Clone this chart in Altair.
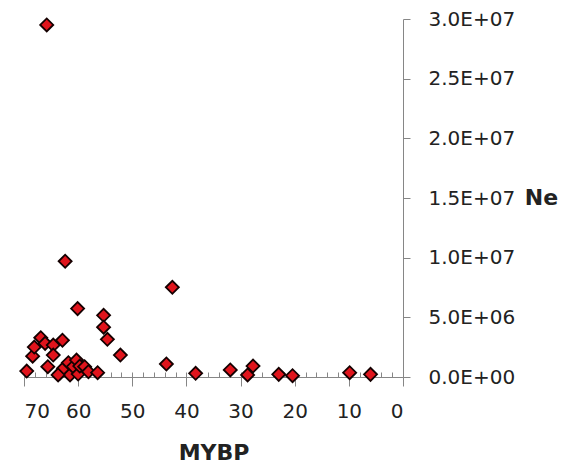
import altair as alt
import pandas as pd

# Data (MYBP = million years before present, Ne in millions)
mybp = [65.8, 62.4, 42.6, 60.1, 55.3, 55.3, 54.6, 52.2, 43.7, 38.3, 31.9, 28.7, 27.7, 22.95, 20.4, 9.85, 6.0,
        69.5, 68.4, 68.1, 66.9, 66.1, 64.6, 62.9, 64.6, 65.6,
        63.4, 62.7, 61.8, 61.5, 60.9, 60.3, 60.0, 59.7, 58.8, 58.1, 56.4, 63.7]
ne_millions = [29.5, 9.7, 7.52, 5.73, 5.17, 4.17, 3.16, 1.84, 1.09, 0.31, 0.59, 0.17, 0.92, 0.22, 0.11, 0.36, 0.22,
               0.5, 1.74, 2.51, 3.29, 2.82, 2.68, 3.08, 1.84, 0.86,
               0.31, 0.73, 1.2, 0.17, 0.86, 1.42, 0.25, 0.92, 0.86, 0.44, 0.36, 0.17]
x_ticks = [0, 10, 20, 30, 40, 50, 60, 70]
x_minor = list(range(0, 71, 2))
y_ticks = [0, 5e6, 1e7, 1.5e7, 2e7, 2.5e7, 3e7]

df = pd.DataFrame({"MYBP": mybp, "Ne": [v * 1e6 for v in ne_millions]})

W, H = 379, 358
FONT = "DejaVu Sans"
GREY = "#868686"
TXT = "#222222"

xscale = alt.Scale(domain=[0, 70], reverse=True, nice=False)
yscale = alt.Scale(domain=[0, 3e7], nice=False)

yaxis = alt.Axis(orient="right", values=y_ticks,
                 labelExpr="replace(format(datum.value, '.1e'), 'e+', 'E+0')",
                 tickSize=7, labelPadding=18, domainColor=GREY, tickColor=GREY, grid=False,
                 labelFont=FONT, labelFontSize=20, labelColor=TXT,
                 title="Ne", titleAngle=0, titleX=138, titleY=178, titleAlign="center",
                 titleBaseline="middle", titleFont=FONT, titleFontSize=22,
                 titleFontWeight="bold", titleColor=TXT)

minor = alt.Chart(df).mark_point(opacity=0).encode(
    x=alt.X("MYBP:Q", scale=xscale,
            axis=alt.Axis(orient="top", offset=-H, values=x_minor, labels=False,
                          domain=False, tickSize=5, tickColor=GREY, title="", grid=False)),
    y=alt.Y("Ne:Q", scale=yscale, axis=yaxis),
)

points = alt.Chart(df).mark_point(
    shape="diamond", size=170, filled=True, fill="#E0141C", stroke="#140000",
    strokeWidth=1.8, opacity=1
).encode(
    x=alt.X("MYBP:Q", scale=xscale,
            axis=alt.Axis(orient="bottom", values=x_ticks, tickSize=9, labelPadding=15,
                          domainColor=GREY, tickColor=GREY, grid=False,
                          labelFont=FONT, labelFontSize=20, labelColor=TXT,
                          title="MYBP", titleFont=FONT, titleFontSize=22, titleFontWeight="bold",
                          titleColor=TXT, titleY=82, titleBaseline="alphabetic")),
    y=alt.Y("Ne:Q", scale=yscale, axis=yaxis),
)

chart = alt.layer(minor, points).resolve_axis(x="independent").properties(
    width=W, height=H,
    background="white",
    autosize=alt.AutoSizeParams(type="none"),
    padding={"left": 16, "top": 11, "right": 156, "bottom": 90},
).configure_view(stroke="transparent", strokeWidth=0)

chart.save("out.html", embed_options={"renderer": "svg", "actions": False})
